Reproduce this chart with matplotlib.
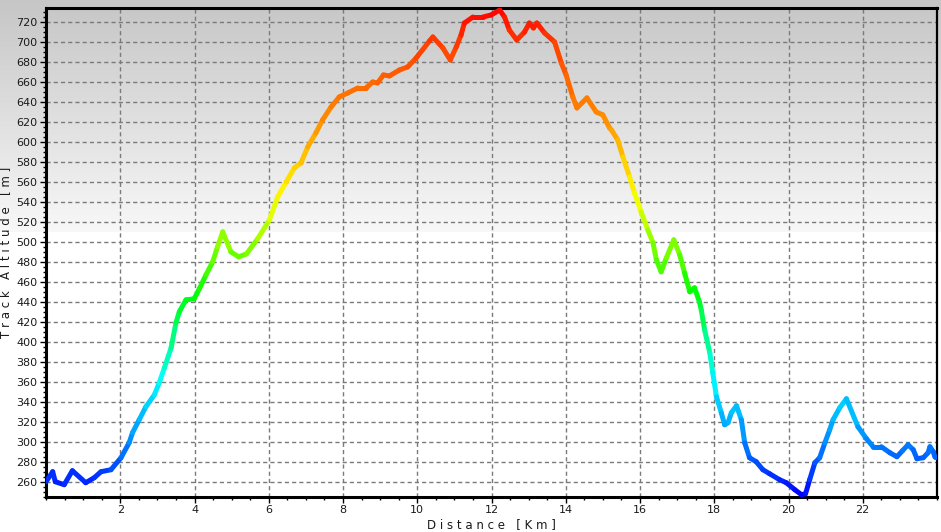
import numpy as np
import matplotlib
matplotlib.use("Agg")
import matplotlib.pyplot as plt
from matplotlib.collections import LineCollection
from matplotlib.colors import hsv_to_rgb

# ---- data ----
distance_km = [0.0, 0.18, 0.25, 0.49, 0.71, 1.07, 1.3, 1.48, 1.75, 2.02, 2.24, 2.33,
               2.51, 2.69, 2.92, 3.05, 3.19, 3.37, 3.5, 3.59, 3.77, 3.99, 4.13, 4.31,
               4.49, 4.62, 4.76, 4.98, 5.19, 5.4, 5.7, 6.02, 6.24, 6.47, 6.69, 6.87,
               7.05, 7.27, 7.45, 7.68, 7.9, 8.13, 8.4, 8.62, 8.8, 8.93, 9.09, 9.25,
               9.52, 9.74, 9.97, 10.33, 10.42, 10.69, 10.89, 11.05, 11.18, 11.27, 11.5,
               11.77, 11.99, 12.22, 12.35, 12.48, 12.68, 12.89, 13.02, 13.13, 13.22,
               13.43, 13.7, 13.88, 14.01, 14.19, 14.3, 14.57, 14.82, 15.0, 15.18, 15.23,
               15.4, 15.54, 15.72, 15.85, 16.03, 16.21, 16.35, 16.44, 16.57, 16.71,
               16.91, 17.07, 17.2, 17.34, 17.47, 17.6, 17.65, 17.74, 17.88, 17.96,
               18.06, 18.19, 18.28, 18.37, 18.46, 18.6, 18.73, 18.82, 18.95, 19.13,
               19.31, 19.49, 19.76, 19.94, 20.17, 20.35, 20.46, 20.57, 20.71, 20.84,
               20.98, 21.11, 21.2, 21.38, 21.56, 21.87, 22.1, 22.28, 22.5, 22.73,
               22.92, 23.07, 23.22, 23.36, 23.46, 23.63, 23.76, 23.81, 23.9, 23.94, 24.0]
altitude_m = [260, 270, 260, 257, 271, 259, 264, 270, 272, 284, 299, 309,
              322, 335, 347, 359, 374, 394, 419, 430, 442, 443, 453, 467,
              480, 495, 510, 490, 485, 488, 503, 522, 545, 560, 574, 579,
              595, 609, 622, 635, 645, 649, 654, 654, 660, 659, 667, 666,
              672, 675, 684, 701, 705, 694, 682, 695, 707, 719, 725,
              725, 727, 732, 725, 712, 702, 710, 719, 714, 719,
              709, 700, 679, 667, 645, 634, 644, 630, 627, 614, 612,
              602, 585, 565, 549, 530, 512, 499, 482, 470, 484,
              502, 487, 469, 450, 454, 440, 432, 412, 389, 369,
              345, 329, 317, 319, 329, 336, 322, 299, 284, 280,
              272, 268, 262, 259, 252, 247, 248, 262, 279, 284,
              299, 312, 322, 334, 343, 315, 303, 295, 295, 289,
              285, 291, 297, 292, 283, 284, 289, 295, 290, 285, 285]
x_ticks = [2, 4, 6, 8, 10, 12, 14, 16, 18, 20, 22]
y_ticks = list(range(260, 721, 20))

# colour scale: altitude -> hue (degrees)
hue_alt = [247, 300, 360, 450, 510, 545, 620, 700, 732]
hue_deg = [240, 208, 182, 120, 80, 60, 34, 14, 0]

W, H = 941, 532
fig = plt.figure(figsize=(W / 100, H / 100), dpi=100)

# background gradient over whole figure
bg_ax = fig.add_axes([0, 0, 1, 1], zorder=-10)
rows = np.arange(H)
vals = np.where(rows < 232, (198 + (248 - 198) * rows / 232.0), 255) / 255.0
img = np.repeat(vals[:, None], 4, axis=1)
bg_ax.imshow(np.dstack([img, img, img]), aspect="auto", extent=[0, 1, 0, 1],
             interpolation="bilinear")
bg_ax.set_axis_off()

ax = fig.add_axes([46 / W, (H - 497) / H, (937 - 46) / W, (497 - 8) / H])
ax.set_facecolor("none")

x = np.array(distance_km)
y = np.array(altitude_m)
pts = np.column_stack([x, y]).reshape(-1, 1, 2)
segs = np.concatenate([pts[:-1], pts[1:]], axis=1)
mid = (y[:-1] + y[1:]) / 2
hues = np.interp(mid, hue_alt, hue_deg) / 360.0
cols = hsv_to_rgb(np.column_stack([hues, np.ones_like(hues), np.ones_like(hues)]))
lc = LineCollection(segs, colors=cols, linewidths=3.6, capstyle="round",
                    joinstyle="round", zorder=3)
ax.add_collection(lc)

ax.set_xlim(0, 24.0)
ax.set_ylim(244.7, 734)
ax.set_xticks(x_ticks)
ax.set_xticks(np.arange(0, 24.01, 0.5), minor=True)
ax.set_yticks(y_ticks)
ax.set_yticks(np.arange(245, 734, 5), minor=True)
ax.grid(True, which="major", color="#7a7a7a", linestyle=(0, (3, 2.2)), linewidth=1.0)
ax.tick_params(axis="both", which="major", length=4, width=1, color="black",
               labelsize=8, labelcolor="#1a1a1a", pad=2)
ax.tick_params(axis="both", which="minor", length=2.5, width=1, color="black")
for s in ax.spines.values():
    s.set_linewidth(2.2)
    s.set_color("black")
ax.spines["right"].set_linewidth(1.6)

ax.set_xlabel("D i s t a n c e   [ K m ]", fontsize=8.5, color="#1a1a1a", labelpad=2)
ax.set_ylabel("T r a c k   A l t i t u d e   [ m ]", fontsize=8.5, color="#1a1a1a")
ax.yaxis.set_label_coords((12 - 46) / (937 - 46), 0.5)

fig.savefig("out.png", dpi=100)
